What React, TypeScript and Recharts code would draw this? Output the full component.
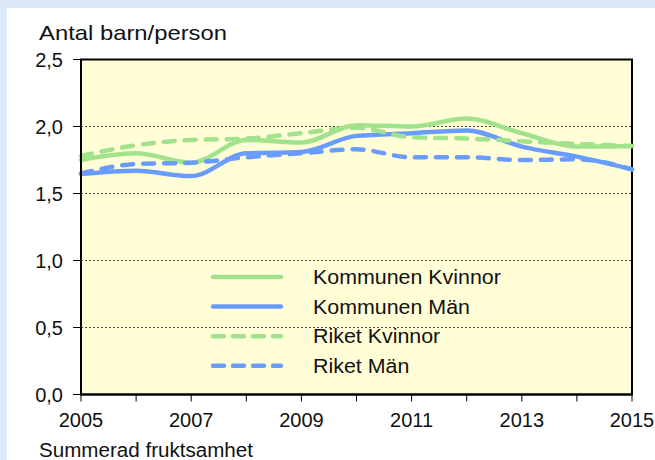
import React from 'react';
import { LineChart, Line, XAxis, YAxis, CartesianGrid, Legend, ReferenceArea } from 'recharts';

const years = [2005, 2006, 2007, 2008, 2009, 2010, 2011, 2012, 2013, 2014, 2015];
const kommunenKvinnor = [1.75, 1.8, 1.73, 1.9, 1.88, 2.01, 2.0, 2.06, 1.95, 1.85, 1.855];
const kommunenMan = [1.645, 1.67, 1.63, 1.8, 1.81, 1.93, 1.95, 1.97, 1.85, 1.775, 1.68];
const riketKvinnor = [1.78, 1.86, 1.9, 1.91, 1.95, 1.99, 1.92, 1.91, 1.89, 1.87, 1.855];
const riketMan = [1.65, 1.72, 1.73, 1.77, 1.8, 1.83, 1.77, 1.77, 1.75, 1.755, 1.68];
const yTicks = [0, 0.5, 1.0, 1.5, 2.0, 2.5];
const xTicks = years;

const GREEN = '#a2e28c';
const BLUE = '#6a9cff';

const seriesDefs = [
  { key: 'kk', name: 'Kommunen Kvinnor', color: GREEN, dash: undefined as string | undefined },
  { key: 'km', name: 'Kommunen Män', color: BLUE, dash: undefined as string | undefined },
  { key: 'rk', name: 'Riket Kvinnor', color: GREEN, dash: '11 10' },
  { key: 'rm', name: 'Riket Män', color: BLUE, dash: '11 10' },
];

const data = years.map((y, i) => ({
  year: y,
  kk: kommunenKvinnor[i],
  km: kommunenMan[i],
  rk: riketKvinnor[i],
  rm: riketMan[i],
}));

const FONT = '"Liberation Sans", Arial, sans-serif';

const LegendContent = () => (
  <svg width={320} height={125} style={{ display: 'block' }}>
    {seriesDefs.map((s, i) => {
      const cy = 15 + i * 29.6;
      return (
        <g key={s.key}>
          <line x1={15} x2={83} y1={cy} y2={cy} stroke={s.color} strokeWidth={4.5}
            strokeLinecap="round" strokeDasharray={s.dash ? '11 9' : undefined} />
          <text transform={`translate(115, ${cy}) scale(1.07, 1)`} dy="0.35em" fontSize={20}
            fontFamily={FONT} fill="#111">{s.name}</text>
        </g>
      );
    })}
  </svg>
);

export default function App() {
  return (
    <div style={{ position: 'absolute', left: 0, top: 0, width: 655, height: 460, background: '#dbe9fb', overflow: 'hidden' }}>
      <div style={{ position: 'absolute', left: 7, top: 8, width: 648, height: 452, background: '#ffffff' }} />
      <div style={{ position: 'absolute', left: 0, top: 0 }}>
        <LineChart width={655} height={460} data={data} margin={{ top: 59.5, right: 23, bottom: 35.5, left: 0 }}>
          <CartesianGrid horizontal vertical={false} fill="#fffed6" fillOpacity={1}
            stroke="#444" strokeDasharray="2 2" strokeWidth={1} />
          <ReferenceArea x1={2005} x2={2015} y1={0} y2={2.5} fill="none" fillOpacity={0}
            stroke="#000" strokeWidth={2} ifOverflow="visible" />
          <XAxis dataKey="year" type="number" domain={[2005, 2015]} ticks={xTicks} interval={0}
            tickFormatter={(v: number) => ((v - 2005) % 2 === 0 ? String(v) : '')}
            axisLine={{ stroke: '#000', strokeWidth: 2 }} tickLine={{ stroke: '#000', strokeWidth: 1 }}
            tickSize={7} tickMargin={11} height={30}
            tick={{ fontSize: 20, fill: '#111', fontFamily: FONT }}
            label={{
              content: () => (
                <text x={39} y={457} fontSize={20} fontFamily={FONT} fill="#111"
                  textLength={214} lengthAdjust="spacingAndGlyphs">Summerad fruktsamhet</text>
              ),
            }} />
          <YAxis type="number" domain={[0, 2.5]} ticks={yTicks} interval={0} width={81}
            tickFormatter={(v: number) => v.toFixed(1).replace('.', ',')}
            axisLine={{ stroke: '#000', strokeWidth: 2 }} tickLine={{ stroke: '#000', strokeWidth: 1 }}
            tickSize={8} tickMargin={10}
            tick={{ fontSize: 20, fill: '#111', fontFamily: FONT }}
            label={{
              content: () => (
                <text x={39} y={40} fontSize={21} fontFamily={FONT} fill="#111"
                  textLength={188} lengthAdjust="spacingAndGlyphs">Antal barn/person</text>
              ),
            }} />
          <Legend layout="vertical" verticalAlign="middle" align="center" content={LegendContent}
            wrapperStyle={{ position: 'absolute', left: 198, top: 262, width: 320, height: 125 }} />
          {seriesDefs.map((s) => (
            <Line key={s.key} dataKey={s.key} name={s.name} type="monotone" stroke={s.color}
              strokeWidth={4.5} strokeDasharray={s.dash} strokeLinecap="round" dot={false}
              activeDot={false} isAnimationActive={false} />
          ))}
        </LineChart>
      </div>
    </div>
  );
}
